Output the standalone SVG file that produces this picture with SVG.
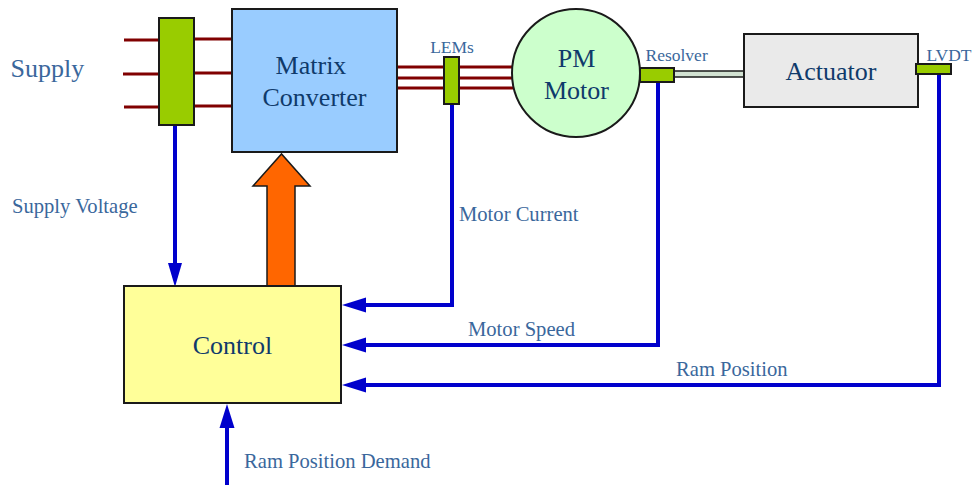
<svg xmlns="http://www.w3.org/2000/svg" width="973" height="485" viewBox="0 0 973 485">
<defs>
<style>
.node{stroke:#1a1a1a;stroke-width:2}
.ntext{font-family:"Liberation Serif","Times New Roman",serif;font-size:26px;fill:#0f3a6b;text-anchor:middle}
.label{font-family:"Liberation Serif","Times New Roman",serif;font-size:20.6px;fill:#3a679c}
.small{font-family:"Liberation Serif","Times New Roman",serif;font-size:17.5px;fill:#3a679c}
.power{stroke:#800000;stroke-width:3;fill:none}
.sig{stroke:#0000cc;stroke-width:4;fill:none}
.head{fill:#0000cc;stroke:none}
.sensor{fill:#99cc00;stroke:#1a1a1a;stroke-width:2}
</style>
</defs>
<rect width="973" height="485" fill="#ffffff"/>
<g id="power-lines">
<line class="power" x1="124" y1="40" x2="162" y2="40"/>
<line class="power" x1="123" y1="74" x2="162" y2="74"/>
<line class="power" x1="124" y1="107" x2="162" y2="107"/>
<line class="power" x1="192" y1="39" x2="234" y2="39"/>
<line class="power" x1="192" y1="73" x2="234" y2="73"/>
<line class="power" x1="192" y1="106" x2="234" y2="106"/>
<line class="power" x1="395" y1="67" x2="514" y2="67"/>
<line class="power" x1="395" y1="78" x2="514" y2="78"/>
<line class="power" x1="395" y1="88" x2="514" y2="88"/>
</g>
<g id="connectors">
<polyline class="sig" points="175,125 175,266"/>
<polygon class="head" points="168,263 182,263 175,287"/>
<polyline class="sig" points="452,104 452,305 364,305"/>
<polygon class="head" points="342,305 366,297.5 366,312.5"/>
<polyline class="sig" points="658,82 658,345 364,345"/>
<polygon class="head" points="342,345 366,337.5 366,352.5"/>
<polyline class="sig" points="939,74 939,385 364,385"/>
<polygon class="head" points="342,385 366,377.5 366,392.5"/>
<polyline class="sig" points="227,485 227,424"/>
<polygon class="head" points="227,404 219.5,428 234.5,428"/>
<polygon id="gate-arrow" points="267,286 267,186 253,186 281.5,154 310,186 295,186 295,286" fill="#ff6600" stroke="#1a1a1a" stroke-width="1.5"/>
<rect id="shaft" x="674" y="71" width="70" height="6" fill="#d2e2d2" stroke="#1a1a1a" stroke-width="1.5"/>
</g>
<g id="supply">
<text class="ntext" x="10.5" y="77" style="text-anchor:start;fill:#3a679c">Supply</text>
</g>
<g id="supply-filter">
<rect class="sensor" x="159" y="18" width="35" height="107"/>
</g>
<g id="matrix-converter">
<rect class="node" x="232" y="9" width="165" height="143" fill="#99ccff"/>
<text class="ntext" x="311" y="74">Matrix</text>
<text class="ntext" x="314.5" y="106">Converter</text>
</g>
<g id="lems">
<rect class="sensor" x="444" y="57" width="15" height="47"/>
<text class="small" x="452" y="52.5" text-anchor="middle">LEMs</text>
</g>
<g id="pm-motor">
<circle class="node" cx="576" cy="73" r="64" fill="#ccffcc"/>
<text class="ntext" x="576.5" y="67">PM</text>
<text class="ntext" x="576.5" y="99">Motor</text>
</g>
<g id="resolver">
<rect class="sensor" x="640" y="68" width="34" height="14"/>
<text class="small" x="645.5" y="60.5">Resolver</text>
</g>
<g id="actuator">
<rect class="node" x="744" y="34" width="174" height="73" fill="#eaeaea"/>
<text class="ntext" x="831" y="80">Actuator</text>
</g>
<g id="lvdt">
<rect class="sensor" x="916" y="64" width="35" height="10"/>
<text class="small" x="926.5" y="60.5">LVDT</text>
</g>
<g id="control">
<rect class="node" x="124" y="286" width="217" height="117" fill="#ffff99"/>
<text class="ntext" x="232.5" y="354">Control</text>
</g>
<g id="labels">
<text class="label" x="12" y="212.5">Supply Voltage</text>
<text class="label" x="459" y="221">Motor Current</text>
<text class="label" x="468" y="335.5">Motor Speed</text>
<text class="label" x="676" y="376">Ram Position</text>
<text class="label" x="244" y="468">Ram Position Demand</text>
</g>
</svg>
